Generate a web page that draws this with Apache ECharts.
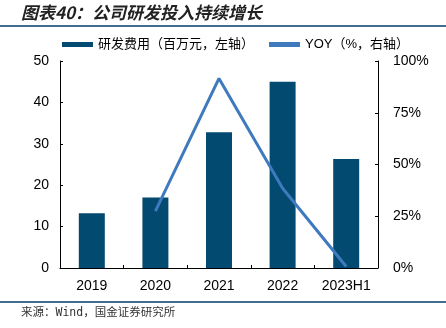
<!DOCTYPE html>
<html>
<head>
<meta charset="utf-8">
<script src="https://cdn.jsdelivr.net/npm/echarts@6/dist/echarts.min.js"></script>
<style>
html,body{margin:0;padding:0;background:#fff;}
#c{width:446px;height:328px;}
</style>
</head>
<body>
<div id="c"></div>
<script>
const categories = ['2019', '2020', '2021', '2022', '2023H1'];
const rdExpense = [13.2, 17.0, 32.8, 45.0, 26.3];
const yoy = [null, 27.5, 91.6, 38.5, 0.7];
const leftTicks = [0, 10, 20, 30, 40, 50];
const rightTicks = [0, 25, 50, 75, 100];
const seriesNames = ['研发费用（百万元，左轴）', 'YOY（%，右轴）'];
const titleText = '图表40：公司研发投入持续增长';
const sourceText = '来源：Wind，国金证券研究所';

const chart = echarts.init(document.getElementById('c'), null, {renderer: 'canvas'});
const barColor = '#024a6f';
const lineColor = '#3f79be';
const sepColor = '#3e6d90';
const latin = "'Liberation Sans', Arial, 'Noto Sans CJK SC', sans-serif";

chart.setOption({
  animation: false,
  backgroundColor: '#fff',
  graphic: [
    {type: 'text', x: 21, y: 13, style: {text: titleText, x: 0, y: 0, align: 'left', verticalAlign: 'middle', fontSize: 17, fontWeight: 'bold', fontStyle: 'italic', fill: '#222', fontFamily: "'Noto Sans CJK SC', sans-serif"}},
    {type: 'line', shape: {x1: 0, y1: 26, x2: 446, y2: 26}, style: {stroke: sepColor, lineWidth: 2}},
    {type: 'line', shape: {x1: 0, y1: 302, x2: 446, y2: 302}, style: {stroke: sepColor, lineWidth: 2}},
    {type: 'text', x: 21, y: 313, style: {text: sourceText, x: 0, y: 0, align: 'left', verticalAlign: 'middle', fontSize: 11.5, fill: '#333', fontFamily: "'DejaVu Sans Mono', 'Noto Sans CJK SC', monospace"}}
  ],
  legend: {
    left: 57, top: 33,
    itemWidth: 31, itemHeight: 5, itemGap: 15,
    icon: 'rect',
    textStyle: {fontSize: 13, color: '#000', fontFamily: latin},
    data: [
      {name: seriesNames[0], itemStyle: {color: barColor}},
      {name: seriesNames[1], itemStyle: {color: lineColor}}
    ]
  },
  grid: {left: 60, right: 68, top: 61, bottom: 60, containLabel: false},
  xAxis: {
    type: 'category',
    data: categories,
    axisLine: {lineStyle: {color: '#000', width: 1}},
    axisTick: {show: true, inside: true, length: 3, lineStyle: {color: '#000'}},
    axisLabel: {interval: 0, fontSize: 14, color: '#000', margin: 11, fontFamily: latin}
  },
  yAxis: [
    {
      type: 'value', min: 0, max: 50, interval: 10,
      axisLine: {show: true, lineStyle: {color: '#000'}},
      axisTick: {show: true, inside: true, length: 3, lineStyle: {color: '#000'}},
      splitLine: {show: false},
      axisLabel: {fontSize: 14, color: '#000', margin: 11, fontFamily: latin,
        customValues: leftTicks}
    },
    {
      type: 'value', min: 0, max: 100, interval: 25, position: 'right',
      axisLine: {show: true, lineStyle: {color: '#000'}},
      axisTick: {show: true, inside: true, length: 3, lineStyle: {color: '#000'}},
      splitLine: {show: false},
      axisLabel: {fontSize: 14, color: '#000', margin: 15, fontFamily: latin,
        customValues: rightTicks, formatter: v => v + '%'}
    }
  ],
  series: [
    {
      name: seriesNames[0], type: 'bar', data: rdExpense, yAxisIndex: 0,
      barWidth: 26, itemStyle: {color: barColor}
    },
    {
      name: seriesNames[1], type: 'line', data: yoy, yAxisIndex: 1,
      symbol: 'none', lineStyle: {color: lineColor, width: 3}, itemStyle: {color: lineColor}
    }
  ]
});
</script>
</body>
</html>
